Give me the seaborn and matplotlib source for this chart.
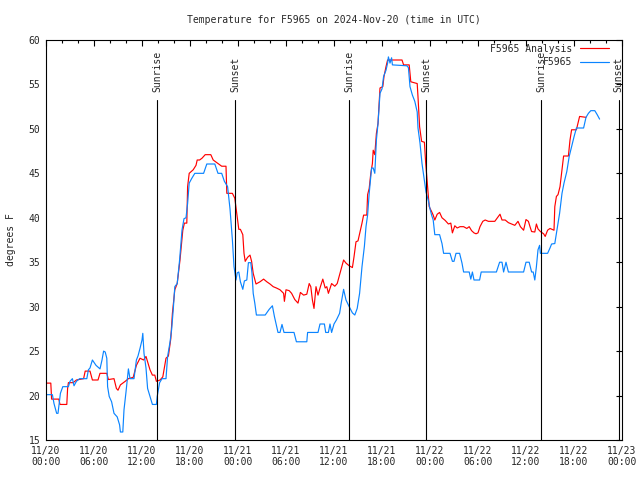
import numpy as np
import pandas as pd
import matplotlib
matplotlib.use("Agg")
import matplotlib.pyplot as plt
import seaborn as sns

# hours since 2024-11-20 00:00 UTC, temperature in F
analysis_hours = [0.0, 0.6, 0.7, 1.6, 1.75, 2.6, 2.7, 2.8, 3.4, 3.8, 4.7, 4.9, 5.5, 5.8, 6.5, 6.75, 7.6, 7.8,
                  8.5, 8.8, 9.0, 9.3, 9.9, 10.3, 10.9, 11.3, 11.75, 12.2, 12.5, 13.0, 13.3, 13.6, 13.8, 14.25,
                  14.6, 15.0, 15.3, 15.6, 15.8, 16.1, 16.4, 16.75, 17.1, 17.3, 17.6, 17.7, 17.9, 18.4, 18.75,
                  18.9, 19.2, 19.5, 19.9, 20.6, 20.9, 21.5, 21.96, 22.5, 22.6, 23.3, 23.6, 23.75, 23.9, 24.1,
                  24.3, 24.6, 24.75, 24.9, 25.2, 25.5, 25.7, 25.9, 26.25, 26.75, 27.2, 27.6, 28.0, 28.4, 28.8,
                  29.25, 29.7, 29.8, 30.0, 30.4, 30.7, 31.1, 31.5, 31.8, 32.2, 32.6, 32.9, 33.1, 33.3, 33.5,
                  33.75, 34.0, 34.3, 34.6, 34.9, 35.1, 35.3, 35.7, 36.1, 36.4, 36.75, 37.2, 37.5, 37.9, 38.3,
                  38.5, 38.75, 39.0, 39.25, 39.5, 39.7, 40.1, 40.2, 40.4, 40.6, 40.8, 40.9, 41.1, 41.3, 41.5,
                  41.75, 42.1, 42.25, 42.5, 42.7, 44.5, 44.7, 45.4, 45.6, 46.4, 46.5, 46.7, 46.95, 47.3, 47.45,
                  47.7, 47.9, 48.2, 48.4, 48.6, 48.9, 49.2, 49.5, 49.9, 50.3, 50.6, 50.8, 51.1, 51.4, 51.75,
                  52.2, 52.6, 52.9, 53.2, 53.5, 53.75, 54.0, 54.25, 54.6, 54.9, 55.3, 55.7, 56.1, 56.5, 56.75,
                  57.0, 57.4, 57.8, 58.2, 58.6, 59.0, 59.3, 59.7, 60.0, 60.3, 60.5, 60.7, 61.1, 61.3, 61.5,
                  61.8, 62.2, 62.4, 62.7, 63.0, 63.5, 63.6, 63.8, 64.0, 64.25, 64.5, 64.7, 65.3, 65.5, 65.7,
                  66.3, 66.7, 67.5]
analysis_temp = [21.4, 21.4, 19.6, 19.6, 19.0, 19.0, 20.8, 21.45, 21.45, 21.75, 21.9, 22.75, 22.75, 21.75, 21.75,
                 22.5, 22.5, 21.8, 21.9, 20.8, 20.6, 21.2, 21.6, 21.9, 22.05, 23.4, 24.2, 24.0, 24.4, 22.9,
                 22.3, 22.3, 21.6, 21.75, 22.1, 24.2, 24.45, 26.4, 29.25, 31.9, 32.6, 35.25, 38.6, 39.4, 39.4,
                 43.5, 45.0, 45.4, 45.9, 46.5, 46.5, 46.7, 47.1, 47.1, 46.5, 46.1, 45.8, 45.8, 42.75, 42.75,
                 42.2, 41.1, 40.1, 38.7, 38.7, 38.1, 36.0, 35.1, 35.55, 35.8, 35.1, 33.75, 32.55, 32.8, 33.1,
                 32.8, 32.55, 32.25, 32.1, 31.9, 31.5, 30.6, 31.9, 31.8, 31.5, 30.8, 30.4, 31.6, 31.3, 31.4,
                 32.6, 32.25, 30.75, 29.8, 32.25, 31.3, 32.25, 33.1, 32.1, 32.25, 31.5, 32.6, 32.3, 32.6,
                 33.75, 35.25, 34.9, 34.6, 34.4, 35.6, 37.3, 37.4, 38.4, 39.4, 40.3, 40.3, 42.6, 43.3, 45.0,
                 46.1, 47.6, 47.1, 49.5, 50.6, 54.6, 54.75, 55.9, 57.0, 57.75, 57.75, 57.2, 57.2, 55.3, 55.1,
                 53.6, 50.25, 48.6, 48.5, 46.3, 43.5, 41.25, 40.7, 40.3, 39.75, 40.4, 40.6, 40.0, 39.7, 39.3,
                 39.4, 38.3, 39.1, 38.85, 39.0, 39.0, 38.8, 39.0, 38.55, 38.3, 38.2, 38.3, 39.0, 39.6, 39.75,
                 39.6, 39.6, 39.6, 40.1, 40.4, 39.75, 39.75, 39.45, 39.3, 39.15, 39.6, 39.0, 38.6, 39.8, 39.6,
                 39.0, 38.45, 38.4, 39.3, 38.75, 38.45, 38.2, 37.9, 38.6, 38.8, 38.6, 41.25, 42.4, 42.6, 43.5,
                 45.4, 46.95, 46.95, 48.75, 49.9, 49.9, 51.4, 51.3]

station_hours = [0.0, 0.8, 1.0, 1.33, 1.5, 1.8, 2.1, 2.8, 3.0, 3.3, 3.5, 3.8, 4.2, 5.1, 5.3, 5.5, 5.8, 6.25,
                 6.75, 7.0, 7.2, 7.4, 7.6, 7.7, 7.9, 8.2, 8.5, 8.9, 9.2, 9.3, 9.6, 9.75, 10.0, 10.3, 10.5,
                 11.0, 11.3, 11.5, 11.75, 12.0, 12.1, 12.25, 12.5, 12.7, 13.0, 13.3, 13.8, 13.9, 14.2, 14.5,
                 15.0, 15.2, 15.5, 15.7, 15.9, 16.1, 16.4, 16.7, 17.0, 17.25, 17.5, 17.7, 17.9, 18.2, 18.6,
                 19.7, 20.1, 21.1, 21.5, 21.96, 22.3, 22.7, 23.0, 23.3, 23.5, 23.75, 23.9, 24.1, 24.3, 24.6,
                 24.8, 25.1, 25.3, 25.6, 25.75, 25.9, 26.1, 26.3, 27.4, 27.9, 28.3, 28.55, 28.8, 29.0, 29.25,
                 29.5, 29.75, 31.0, 31.3, 32.6, 32.7, 34.0, 34.25, 34.8, 34.96, 35.3, 35.5, 35.7, 36.0, 36.3,
                 36.7, 36.9, 37.2, 37.5, 37.9, 38.3, 38.6, 38.9, 39.2, 39.5, 39.8, 40.0, 40.2, 40.4, 40.7,
                 40.9, 41.1, 41.3, 41.5, 41.75, 42.0, 42.2, 42.5, 42.7, 42.8, 43.0, 43.2, 43.3, 45.1, 45.3,
                 45.5, 45.8, 46.1, 46.4, 46.5, 46.75, 47.0, 47.2, 47.5, 47.8, 48.0, 48.2, 48.4, 48.6, 49.2,
                 49.5, 49.7, 50.5, 50.8, 51.0, 51.25, 51.7, 52.0, 52.2, 52.9, 53.1, 53.3, 53.5, 54.2, 54.4,
                 56.3, 56.7, 57.0, 57.2, 57.5, 57.8, 59.7, 60.0, 60.4, 60.7, 60.9, 61.1, 61.3, 61.5, 61.7,
                 61.8, 62.7, 63.0, 63.2, 63.6, 63.8, 64.2, 64.5, 64.75, 65.1, 65.4, 65.7, 66.0, 66.3, 67.2,
                 67.5, 67.8, 68.1, 68.6, 68.9, 69.2]
station_temp = [20.1, 20.1, 19.1, 18.0, 18.0, 20.25, 21.0, 21.0, 21.6, 21.9, 21.1, 21.6, 21.9, 21.9, 22.9,
                23.1, 24.0, 23.4, 23.0, 24.0, 25.0, 24.9, 24.2, 21.0, 19.9, 19.3, 18.0, 17.6, 16.7, 15.9,
                15.9, 18.4, 20.4, 23.0, 21.9, 21.9, 24.0, 24.45, 25.3, 26.25, 27.0, 24.75, 23.1, 20.8, 19.9,
                19.0, 19.0, 19.9, 21.45, 21.9, 21.9, 24.4, 26.0, 27.4, 29.6, 32.25, 32.6, 35.25, 38.6, 39.9,
                40.0, 41.6, 43.9, 44.4, 45.0, 45.0, 46.05, 46.05, 45.0, 45.0, 44.1, 43.5, 41.0, 37.5, 34.5,
                33.0, 33.8, 33.9, 32.8, 31.95, 32.9, 33.0, 34.95, 34.95, 33.75, 31.5, 30.4, 29.06, 29.06,
                29.7, 30.1, 28.9, 27.9, 27.1, 27.1, 28.0, 27.1, 27.1, 26.05, 26.05, 27.1, 27.1, 28.05, 28.05,
                27.1, 27.1, 28.05, 27.1, 28.05, 28.5, 29.25, 30.4, 31.95, 30.75, 30.0, 29.3, 29.06, 29.8,
                31.5, 34.5, 36.8, 39.0, 40.3, 42.75, 45.6, 45.6, 45.0, 48.75, 50.6, 54.0, 54.5, 55.9, 56.6,
                57.4, 58.1, 57.4, 58.0, 57.2, 57.1, 56.9, 54.75, 53.8, 53.1, 51.9, 50.1, 48.4, 46.1, 44.8,
                42.9, 41.9, 41.0, 40.3, 39.75, 38.1, 38.1, 37.1, 36.0, 36.0, 35.1, 35.1, 36.0, 36.0, 34.9,
                33.9, 33.9, 33.1, 33.9, 33.0, 33.0, 33.9, 33.9, 35.0, 35.0, 33.9, 35.0, 33.9, 33.9, 35.0,
                35.0, 33.9, 33.9, 33.0, 34.5, 36.4, 36.9, 36.0, 36.0, 36.6, 37.05, 37.1, 38.25, 40.5, 42.75,
                43.9, 45.2, 46.9, 48.0, 49.1, 50.1, 50.1, 51.3, 51.75, 52.05, 52.05, 51.6, 51.1]

sun_events = ["Sunrise", "Sunset", "Sunrise", "Sunset", "Sunrise", "Sunset"]
sun_hours = [13.9, 23.65, 37.9, 47.55, 61.9, 71.6]

tick_hours = list(range(0, 73, 6))
tick_labels = ["11/20\n00:00", "11/20\n06:00", "11/20\n12:00", "11/20\n18:00",
               "11/21\n00:00", "11/21\n06:00", "11/21\n12:00", "11/21\n18:00",
               "11/22\n00:00", "11/22\n06:00", "11/22\n12:00", "11/22\n18:00",
               "11/23\n00:00"]

sns.set_style("white")
plt.rcParams['font.family'] = ['DejaVu Sans Mono', 'DejaVu Sans']
plt.rcParams['font.size'] = 7

df_a = pd.DataFrame({'hours': analysis_hours, 'temp': analysis_temp})
df_s = pd.DataFrame({'hours': station_hours, 'temp': station_temp})

fig = plt.figure(figsize=(6.4, 4.8), dpi=100)
ax = fig.add_axes([46 / 640, 40 / 480, 576 / 640, 400 / 480])

sns.lineplot(data=df_a, x='hours', y='temp', ax=ax, color='#ff0000', linewidth=0.85,
             estimator=None, sort=False, label='F5965 Analysis')
sns.lineplot(data=df_s, x='hours', y='temp', ax=ax, color='#0a84ff', linewidth=0.85,
             estimator=None, sort=False, label='F5965')

# sunrise / sunset markers
top_line = 53.25
for name, h in zip(sun_events, sun_hours):
    ax.plot([h, h], [15, top_line], color='black', linewidth=0.8)
    ax.text(h, 54.2, name, rotation=90, ha='center', va='bottom', fontsize=7)

ax.set_xlim(0, 72)
ax.set_ylim(15, 60)
ax.set_xticks(tick_hours)
ax.set_xticklabels(tick_labels)
ax.set_xticks(range(0, 73, 2), minor=True)
ax.set_yticks(range(15, 61, 5))
ax.tick_params(which='both', direction='in', top=True, right=True, labelsize=7, pad=4,
               color='black', width=0.8)
ax.tick_params(which='major', length=4)
ax.tick_params(which='minor', length=2)
for s in ax.spines.values():
    s.set_color('black')
    s.set_linewidth(0.8)

ax.set_xlabel('')
ax.set_ylabel('degrees F', fontsize=7, labelpad=9)
ax.set_title('Temperature for F5965 on 2024-Nov-20 (time in UTC)', fontsize=7, pad=12)

ax.legend(loc='upper right', bbox_to_anchor=(1 - 6 / 576, 1 + 3 / 400), frameon=False,
          markerfirst=False, fontsize=7, handlelength=3.0, borderaxespad=0.3,
          labelspacing=0.35, handletextpad=0.8)

fig.savefig('out.png', dpi=100)
